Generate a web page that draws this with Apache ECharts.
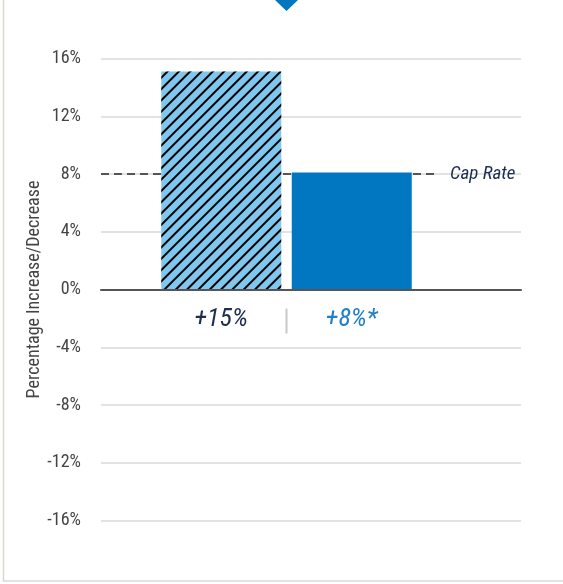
<!DOCTYPE html>
<html>
<head>
<meta charset="utf-8">
<script src="https://cdn.jsdelivr.net/npm/echarts@6/dist/echarts.min.js"></script>
<style>html,body{margin:0;padding:0;background:#fff}#c{width:563px;height:584px}</style>
</head>
<body>
<div id="c"></div>
<script>
const categories = ['+15%', '+8%*'];
const values = [15.1, 8.1];
const capRate = 8;
const capLabel = 'Cap Rate';
const yTicks = { min: -16, max: 16, interval: 4 };
const yName = 'Percentage Increase/Decrease';

const FONT = "Roboto, 'Liberation Sans Narrow', sans-serif";
const COND = 'condensed';
const ICOND = 'italic condensed';
const NAVY = '#1c2d50';
const BLUE = '#0077c0';
const LIGHT = '#7fc7ef';
const labelColors = [NAVY, '#1f80c8'];

const gridTop = 58.5, gridBottom = 63.5;
const chart = echarts.init(document.getElementById('c'), null, { renderer: 'canvas' });

const yBase = { type: 'value', min: yTicks.min, max: yTicks.max, interval: yTicks.interval };
const hiddenY = { axisLine: { show: false }, axisTick: { show: false }, axisLabel: { show: false }, splitLine: { show: false } };

chart.setOption({
  animation: false,
  grid: [
    { left: 101, right: 42, top: gridTop, bottom: gridBottom },
    { left: 156, right: 146, top: gridTop, bottom: gridBottom },
    { left: 101, right: 126, top: gridTop, bottom: gridBottom }
  ],
  xAxis: [
    { gridIndex: 0, type: 'category', data: [''], axisLine: { onZero: true, lineStyle: { color: '#555', width: 2 } }, axisTick: { show: false }, axisLabel: { show: false }, z: 5 },
    { gridIndex: 1, type: 'category', data: categories, axisLine: { show: false }, axisTick: { show: false }, axisLabel: { show: false } },
    { gridIndex: 2, type: 'category', data: [''], show: false }
  ],
  yAxis: [
    Object.assign({}, yBase, {
      gridIndex: 0,
      name: yName, nameLocation: 'middle', nameGap: 58, nameMoveOverlap: false,
      nameTextStyle: { color: '#444', fontSize: 18, fontStyle: COND, fontFamily: FONT },
      axisLine: { show: false }, axisTick: { show: false },
      axisLabel: { formatter: '{value}%', color: '#444', fontSize: 18, fontStyle: COND, fontFamily: FONT, margin: 20 },
      splitLine: { lineStyle: { color: '#d9d9d9', width: 1.5 } }
    }),
    Object.assign({}, yBase, hiddenY, { gridIndex: 1 }),
    Object.assign({}, yBase, hiddenY, { gridIndex: 2 })
  ],
  series: [
    {
      type: 'bar', xAxisIndex: 2, yAxisIndex: 2, data: [], z: 1,
      markLine: {
        silent: true, symbol: 'none', z: 1,
        lineStyle: { color: '#555', type: [8, 5], width: 2 },
        label: { position: 'end', distance: 13, formatter: capLabel, color: NAVY, fontSize: 19, fontStyle: ICOND, fontFamily: FONT },
        data: [{ yAxis: capRate }]
      }
    },
    {
      type: 'bar', xAxisIndex: 1, yAxisIndex: 1, barWidth: 120, z: 3,
      label: { show: true, position: 'bottom', distance: 17, formatter: '{b}', fontSize: 26, fontStyle: ICOND, fontFamily: FONT },
      data: values.map((v, i) => i === 0 ? {
        value: v,
        label: { color: labelColors[i] },
        itemStyle: { color: LIGHT, decal: { color: '#000', dashArrayX: [1, 0], dashArrayY: [2, 6], rotation: -Math.PI / 4, symbol: 'rect' } }
      } : { value: v, label: { color: labelColors[i] }, itemStyle: { color: BLUE } })
    }
  ]
});

// decorations: frame, diamond, separator between category labels
const c0 = chart.convertToPixel({ xAxisIndex: 1, yAxisIndex: 1 }, [0, 0]);
const c1 = chart.convertToPixel({ xAxisIndex: 1, yAxisIndex: 1 }, [1, 0]);
const sepX = (c0[0] + c1[0]) / 2;
const zeroY = c0[1];
chart.setOption({
  graphic: [
    { type: 'rect', shape: { x: 3.5, y: -10, width: 600, height: 591 }, style: { fill: null, stroke: '#dcd8d3', lineWidth: 1.5 }, z: 0, silent: true },
    { type: 'polygon', shape: { points: [[sepX, -12], [sepX + 11.5, 0], [sepX, 11], [sepX - 11.5, 0]] }, style: { fill: BLUE }, z: 10, silent: true },
    { type: 'line', shape: { x1: sepX, y1: zeroY + 19, x2: sepX, y2: zeroY + 44 }, style: { stroke: '#c8c8c8', lineWidth: 2 }, z: 10, silent: true }
  ]
});
</script>
</body>
</html>
